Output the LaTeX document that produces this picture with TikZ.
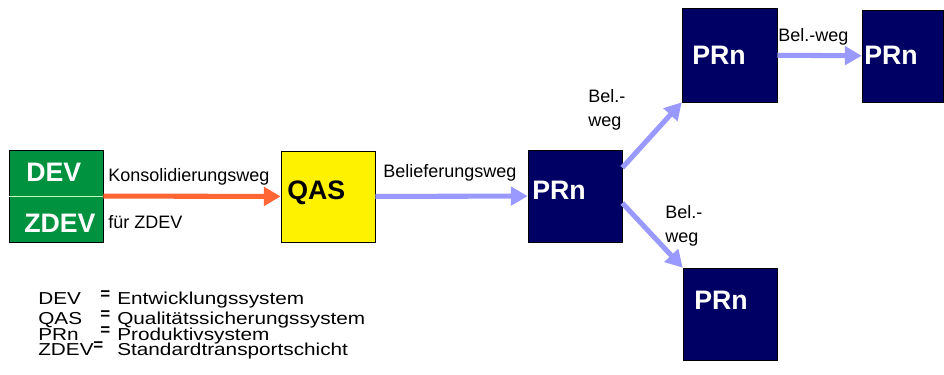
\documentclass[tikz,border=0pt]{standalone}
\usepackage{fontspec}
\setmainfont{Liberation Sans}
\usepackage{tikz}
\usetikzlibrary{shapes,arrows.meta,positioning,shadows}
\definecolor{devgreen}{RGB}{0,146,63}
\definecolor{prnavy}{RGB}{0,0,100}
\definecolor{konsorange}{RGB}{255,102,51}
\definecolor{belblue}{RGB}{153,153,255}
\newcommand{\legwide}[1]{\scalebox{1.2}[1]{#1}}
\tikzstyle{sysbox} = [rectangle, draw=black, line width=0.4pt, minimum width=2.35cm, minimum height=2.3cm, inner sep=0pt,
  drop shadow={shadow xshift=0.8pt, shadow yshift=-0.8pt, fill=black!70, opacity=1}]
\tikzstyle{boxlbl} = [anchor=west, inner sep=0pt, font=\fontsize{19}{21}\selectfont\bfseries]
\tikzstyle{pathlbl} = [anchor=west, inner sep=0pt, align=left, font=\fontsize{12.8}{17}\selectfont]
\tikzstyle{legtxt} = [anchor=base west, inner sep=0pt, font=\fontsize{12.3}{14}\selectfont]
\tikzstyle{legeq} = [anchor=north west, inner sep=0pt, font=\fontsize{12}{12}\selectfont\bfseries]
\tikzstyle{konsarrow} = [draw=konsorange, line width=3.6pt, -{Triangle[length=12pt, width=13pt]}]
\tikzstyle{belarrow} = [draw=belblue, line width=3.6pt, -{Triangle[length=12pt, width=13pt]}]

\begin{document}
\begin{tikzpicture}[x=0.025cm, y=-0.025cm]
			\useasboundingbox (0,0) rectangle (944,374);

			\node [sysbox, fill=devgreen] (dev) at (56,196) {};
			\node [sysbox, fill=yellow, minimum height=2.275cm] (qas) at (328,196.5) {};
			\node [sysbox, fill=prnavy] (prA) at (575,196) {};
			\node [sysbox, fill=prnavy, minimum width=2.375cm, minimum height=2.35cm] (prB) at (729.5,55) {};
			\node [sysbox, fill=prnavy, minimum width=2.025cm] (prC) at (902.5,56) {};
			\node [sysbox, fill=prnavy] (prD) at (730,314) {};
			\path [draw=green!25!white, line width=0.7pt] (dev.west) -- (dev.east);

			\node [boxlbl, text=white] (devlbl) at (26,172) {DEV};
			\node [boxlbl, text=white] (zdevlbl) at (24,223) {ZDEV};
			\node [boxlbl, text=black] (qaslbl) at (287,193) {QAS};
			\node [boxlbl, text=white] (prAlbl) at (532,190) {PRn};
			\node [boxlbl, text=white] (prBlbl) at (692,55) {PRn};
			\node [boxlbl, text=white] (prClbl) at (864,55) {PRn};
			\node [boxlbl, text=white] (prDlbl) at (694,300) {PRn};

			\path [konsarrow] (dev) -- (qas);
			\path [belarrow] (qas) -- (prA);
			\path [belarrow] ([yshift=-12.8pt]prA.north east) -- (prB.south west);
			\path [belarrow] ([yshift=-5pt]prA.east) -- (prD.north west);
			\path [belarrow] (prB) -- (prC);

			\node [pathlbl] (konslbl) at (108,177) {Konsolidierungsweg};
			\node [pathlbl] (fuerlbl) at (108,222) {für ZDEV};
			\node [pathlbl] (belieflbl) at (383,173) {Belieferungsweg};
			\node [pathlbl] (belBClbl) at (778,37) {Bel.-weg};
			\node [pathlbl] (belABlbl) at (588,110) {Bel.-\\weg};
			\node [pathlbl] (belADlbl) at (665,226) {Bel.-\\weg};

			% Legende
			\node [legtxt] (legDEV) at (38,304) {\legwide{DEV}};
			\node [legeq] (eqDEV) at (100,290) {=};
			\node [legtxt] (descDEV) at (117,304) {\legwide{Entwicklungssystem}};
			\node [legtxt] (legQAS) at (38,324) {\legwide{QAS}};
			\node [legeq] (eqQAS) at (100,310) {=};
			\node [legtxt] (descQAS) at (117,324) {\legwide{Qualitätssicherungssystem}};
			\node [legtxt] (legPRn) at (38,340) {\legwide{PRn}};
			\node [legeq] (eqPRn) at (100,326) {=};
			\node [legtxt] (descPRn) at (117,340) {\legwide{Produktivsystem}};
			\node [legtxt] (legZDEV) at (38,355) {\legwide{ZDEV}};
			\node [legeq] (eqZDEV) at (93,341) {=};
			\node [legtxt] (descZDEV) at (117,355) {\legwide{Standardtransportschicht}};
		\end{tikzpicture}
\end{document}
